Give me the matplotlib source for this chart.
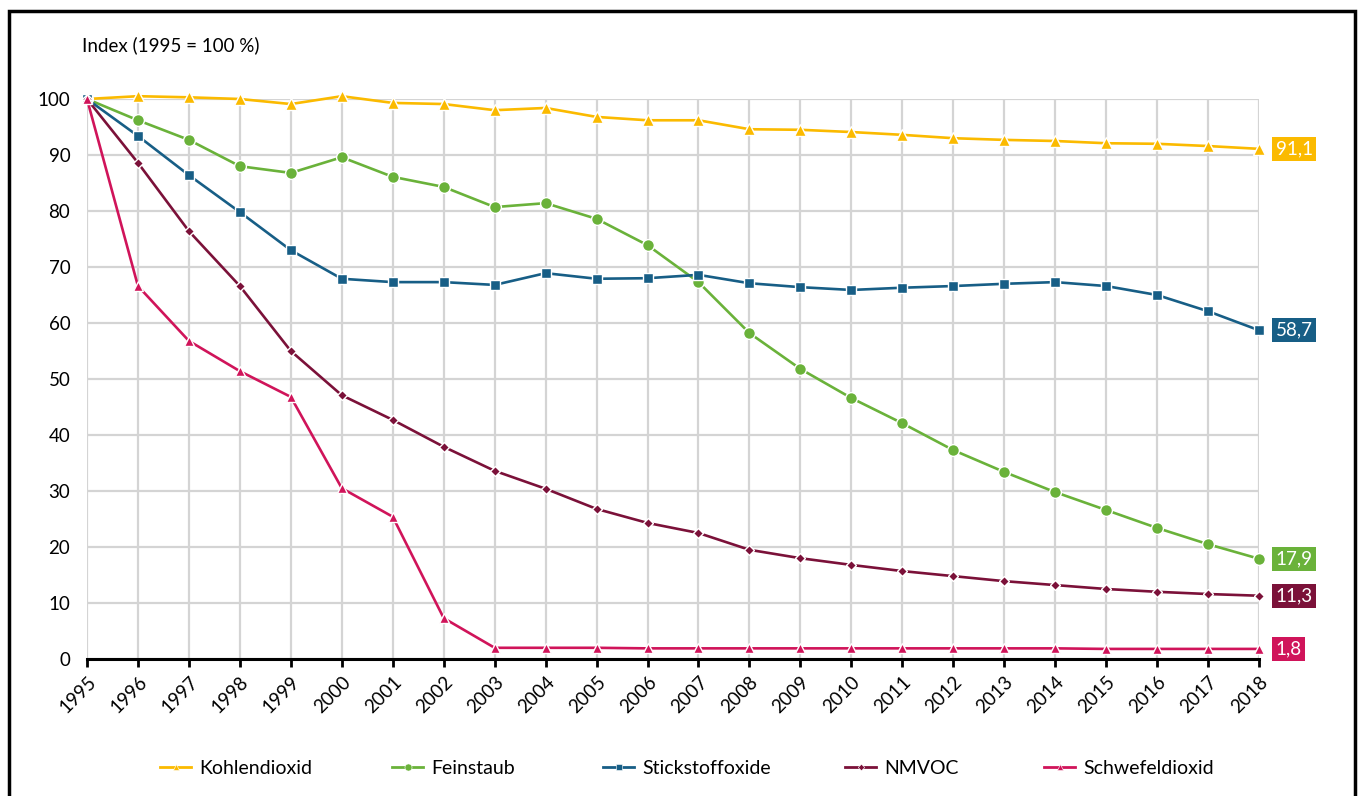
import numpy as np
import matplotlib
matplotlib.use('Agg')
import matplotlib.pyplot as plt
from matplotlib.lines import Line2D
from matplotlib.patches import Rectangle

plt.rcParams['font.family'] = ['Lato', 'DejaVu Sans']

years = list(range(1995, 2019))

kohlendioxid = [100, 100.5, 100.3, 100.0, 99.1, 100.5, 99.3, 99.1, 98.0, 98.4, 96.8, 96.2,
                96.2, 94.6, 94.5, 94.1, 93.6, 93.0, 92.7, 92.5, 92.1, 92.0, 91.6, 91.1]
feinstaub = [100, 96.2, 92.7, 88.0, 86.8, 89.6, 86.1, 84.3, 80.7, 81.4, 78.6, 73.9,
             67.3, 58.2, 51.8, 46.6, 42.1, 37.3, 33.4, 29.8, 26.6, 23.4, 20.5, 17.9]
stickstoffoxide = [100, 93.4, 86.4, 79.8, 73.0, 67.9, 67.3, 67.3, 66.8, 68.9, 67.9, 68.0,
                   68.6, 67.1, 66.4, 65.9, 66.3, 66.6, 67.0, 67.3, 66.6, 65.0, 62.1, 58.7]
nmvoc = [100, 88.6, 76.4, 66.6, 55.0, 47.1, 42.7, 37.9, 33.6, 30.4, 26.8, 24.3,
         22.5, 19.5, 18.0, 16.8, 15.7, 14.8, 13.9, 13.2, 12.5, 12.0, 11.6, 11.3]
schwefeldioxid = [100, 66.6, 56.8, 51.4, 46.8, 30.5, 25.4, 7.3, 2.0, 2.0, 2.0, 1.9,
                  1.9, 1.9, 1.9, 1.9, 1.9, 1.9, 1.9, 1.9, 1.8, 1.8, 1.8, 1.8]

names = ['Kohlendioxid', 'Feinstaub', 'Stickstoffoxide', 'NMVOC', 'Schwefeldioxid']
series = [kohlendioxid, feinstaub, stickstoffoxide, nmvoc, schwefeldioxid]
colors = ['#FBBA00', '#6AB23A', '#175E86', '#7B1139', '#D0145A']
markers = ['^', 'o', 's', 'D', '^']
msizes = [8, 8.5, 7.5, 5.5, 6.5]
end_labels = ['91,1', '17,9', '58,7', '11,3', '1,8']

fig = plt.figure(figsize=(13.6, 7.96), dpi=100)
ax = fig.add_axes([87 / 1360, 1 - 659 / 796, (1259 - 87) / 1360, (659 - 99) / 796])

# Rahmen um die ganze Grafik
fig.patches.append(Rectangle((9 / 1360, -0.1), (1355 - 9) / 1360, 1.1 - 11 / 796,
                             transform=fig.transFigure, fill=False, edgecolor='black',
                             linewidth=2.5, zorder=10))

handles = []
for vals, name, c, m, ms in zip(series, names, colors, markers, msizes):
    ax.plot(years, vals, color=c, linewidth=1.9, marker=m, markersize=ms,
            markeredgecolor='white', markeredgewidth=1.0, clip_on=False, zorder=3)
    handles.append(Line2D([], [], color=c, linewidth=2.0, marker=m, markersize=ms * 0.6,
                          markeredgecolor='white', markeredgewidth=0.4, label=name))

for vals, lab, c in zip(series, end_labels, colors):
    ax.annotate(lab, xy=(years[-1], vals[-1]), xytext=(12, 0), textcoords='offset points',
                ha='left', va='center', color='white', fontsize=13.5,
                bbox=dict(boxstyle='square,pad=0.18', facecolor=c, edgecolor='none'),
                annotation_clip=False)

ax.set_xlim(1995, 2018)
ax.set_ylim(0, 100)
ax.set_xticks(years)
ax.set_xticklabels([str(y) for y in years], rotation=45, ha='right', rotation_mode='anchor',
                   fontsize=13.5)
ax.set_yticks(range(0, 101, 10))
ax.tick_params(axis='y', length=0, labelsize=13.5, pad=12)
ax.tick_params(axis='x', length=6, width=2, direction='out', pad=4)
ax.grid(True, color='#d4d4d4', linewidth=1.6)
ax.set_axisbelow(True)
for s in ['left', 'right', 'top']:
    ax.spines[s].set_visible(False)
ax.spines['bottom'].set_linewidth(2.2)
ax.spines['bottom'].set_zorder(2)

fig.text(82 / 1360, 1 - 45 / 796, 'Index (1995 = 100 %)', fontsize=13.5, va='center', ha='left')

# Legende, Eintraege einzeln platziert
leg_x = [160, 392, 603, 845, 1044]
for h, lx in zip(handles, leg_x):
    fig.legend(handles=[h], loc='center left', bbox_to_anchor=(lx / 1360, 1 - 768 / 796),
               frameon=False, fontsize=14, handlelength=1.6, handletextpad=0.4,
               borderaxespad=0, borderpad=0)

fig.savefig('out.png', dpi=100)
